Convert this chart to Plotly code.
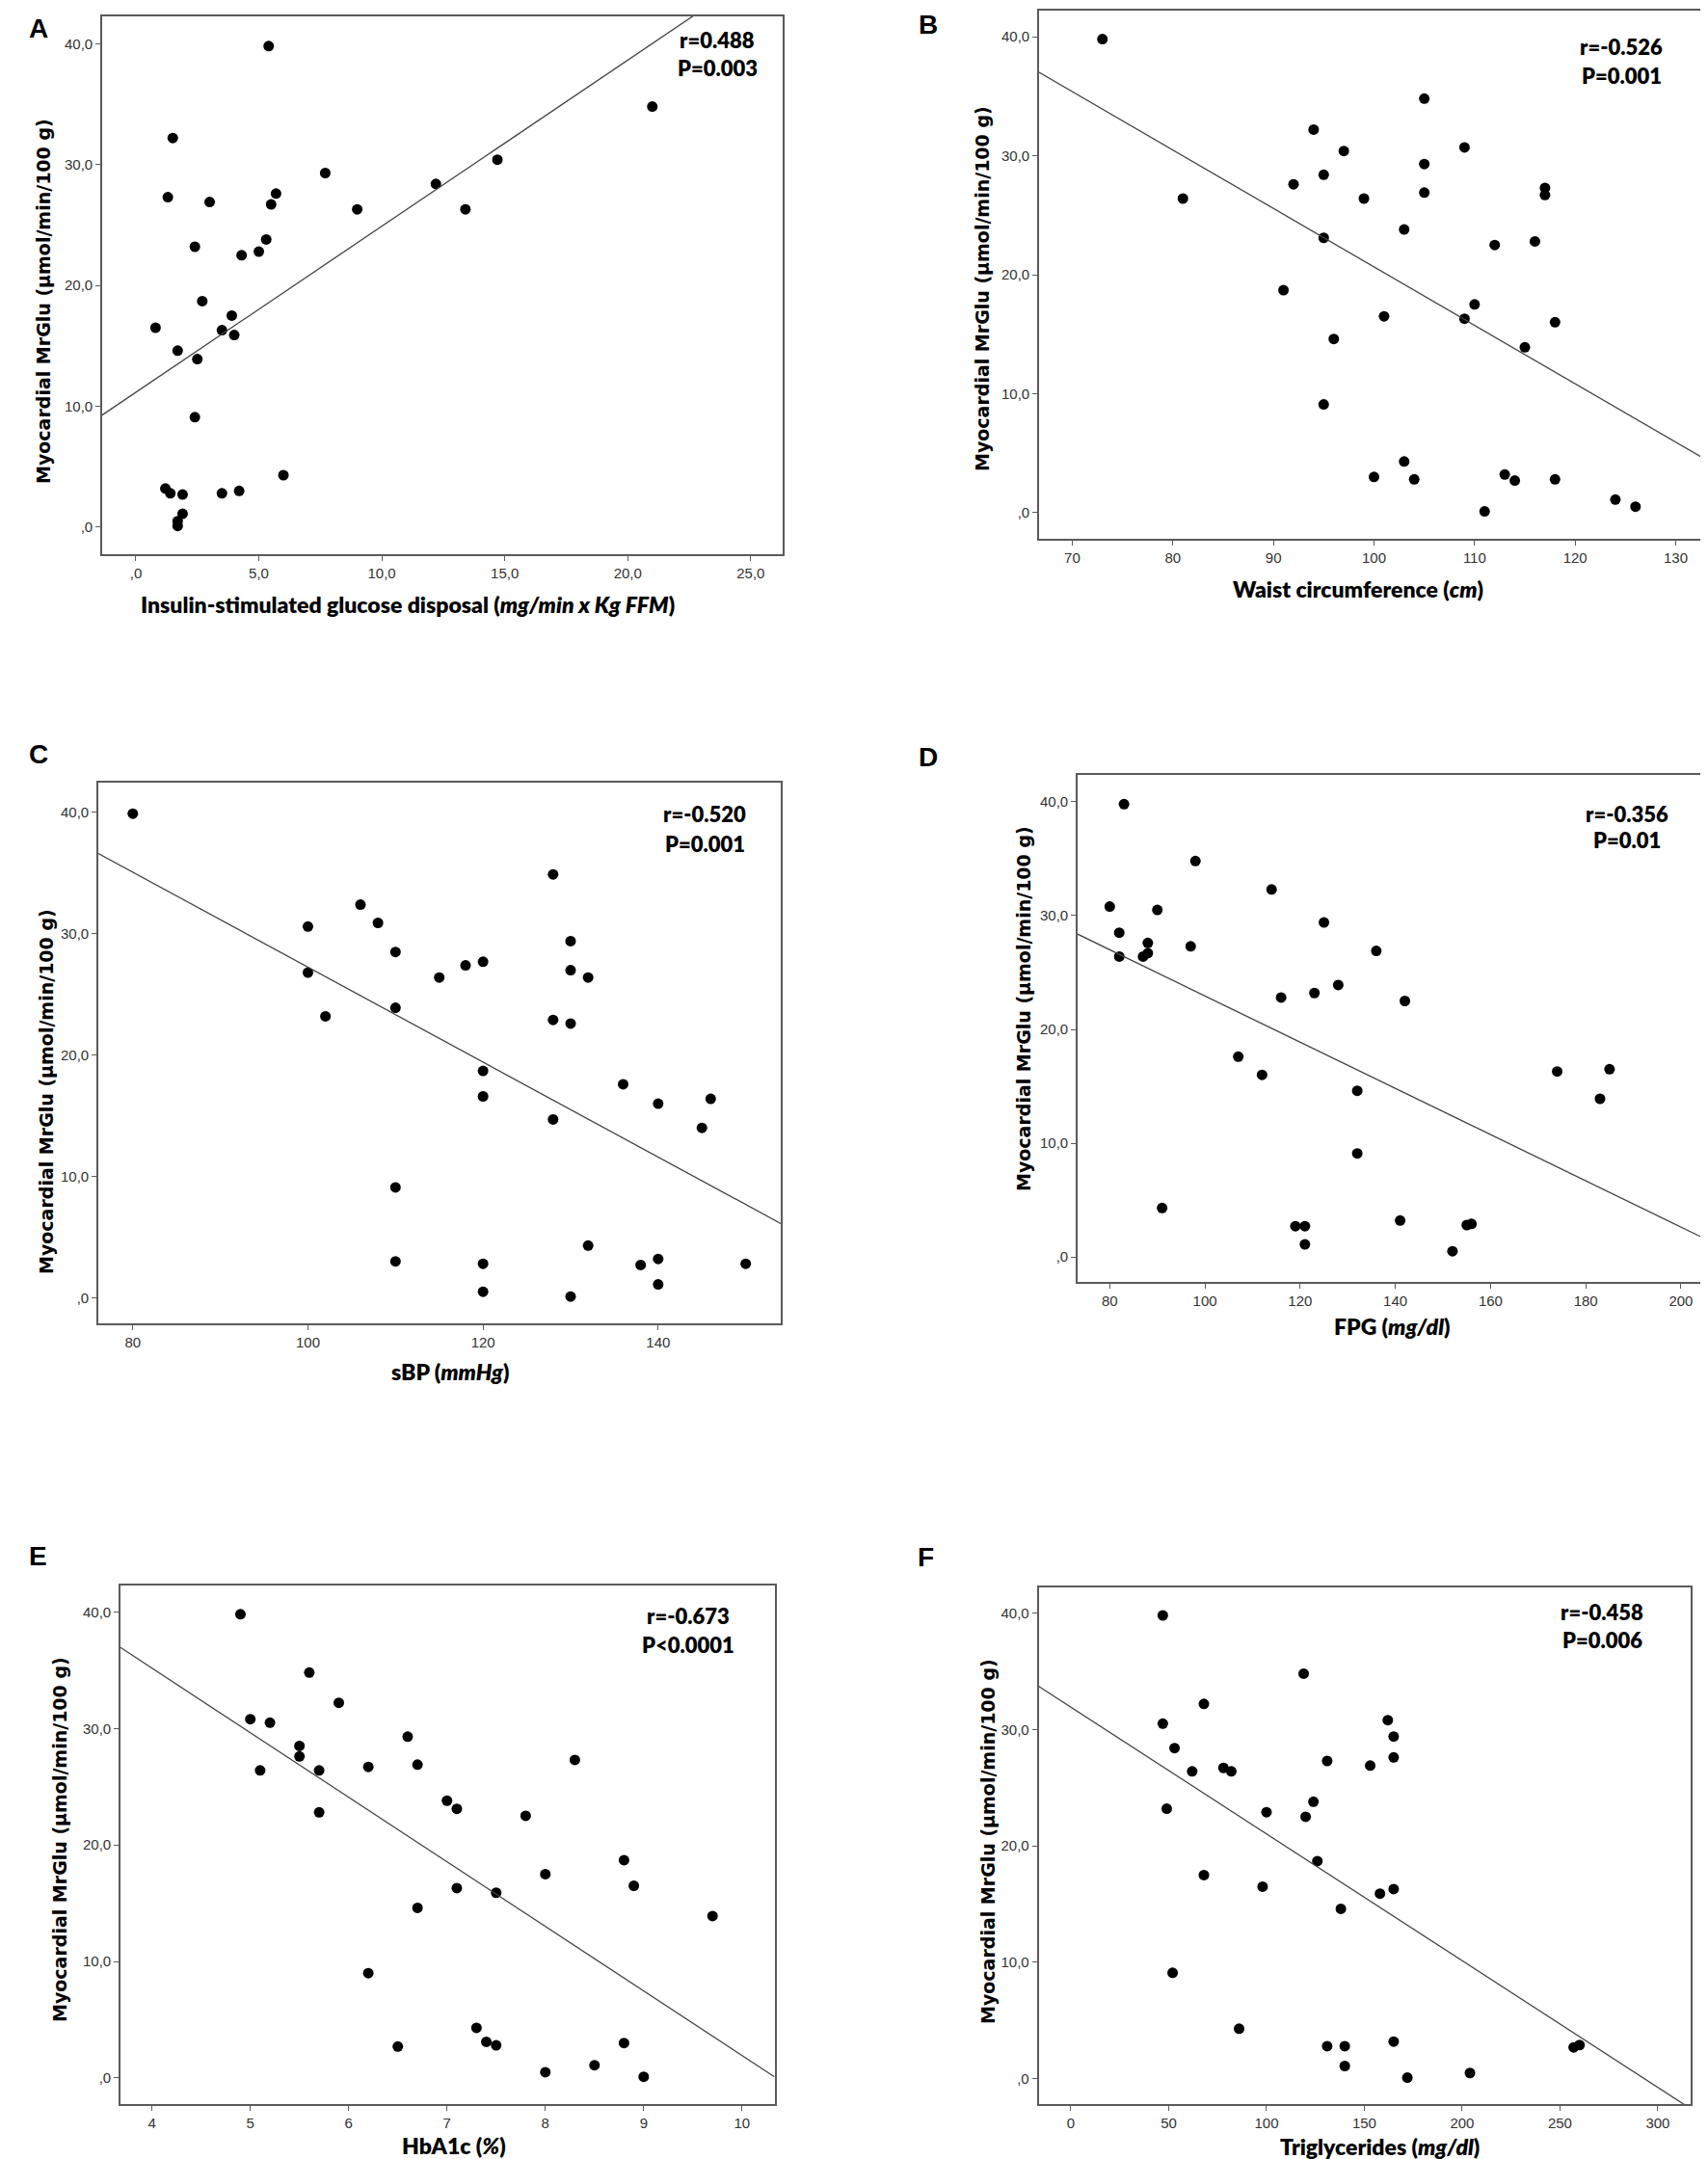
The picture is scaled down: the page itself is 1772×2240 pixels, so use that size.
import numpy as np
import plotly.graph_objects as go

W, H = 1772, 2240

# ---- data ----
# A: insulin-stimulated glucose disposal
a_x = [5.4, 1.5, 1.3, 3.0, 7.7, 5.7, 5.5, 9.0, 12.2, 14.7, 13.4, 21.0, 2.4, 5.3, 5.0, 4.3, 2.7,
       3.9, 3.5, 4.0, 0.8, 1.7, 2.5, 2.4, 6.0, 1.2, 1.4, 1.9, 3.5, 4.2, 1.9, 1.7, 1.7]
a_y = [39.8, 32.2, 27.3, 26.9, 29.3, 27.6, 26.7, 26.3, 28.4, 30.4, 26.3, 34.8, 23.2, 23.8, 22.8,
       22.5, 18.7, 17.5, 16.3, 15.9, 16.5, 14.6, 13.9, 9.1, 4.3, 3.2, 2.8, 2.7, 2.8, 3.0, 1.1, 0.5, 0.1]

# B: waist circumference
b_x = [73, 81, 94, 97, 105, 109, 105, 95, 92, 99, 105, 117, 117, 103, 95, 112, 116, 91, 110, 101,
       109, 118, 96, 115, 95, 103, 100, 104, 113, 114, 118, 111, 124, 126]
b_y = [39.8, 26.4, 32.2, 30.4, 34.8, 30.7, 29.3, 28.4, 27.6, 26.4, 26.9, 27.3, 26.7, 23.8, 23.1,
       22.5, 22.8, 18.7, 17.5, 16.5, 16.3, 16.0, 14.6, 13.9, 9.1, 4.3, 3.0, 2.8, 3.2, 2.7, 2.8, 0.1, 1.1, 0.5]

# C: systolic blood pressure
c_x = [80, 100, 100, 102, 106, 108, 110, 110, 115, 118, 120, 120, 120, 128, 130, 130, 132, 128,
       130, 136, 140, 146, 145, 128, 110, 110, 120, 120, 130, 132, 138, 140, 140, 150]
c_y = [39.9, 30.6, 26.8, 23.2, 32.4, 30.9, 28.5, 23.9, 26.4, 27.4, 27.7, 18.7, 16.6, 34.9, 29.4,
       27.0, 26.4, 22.9, 22.6, 17.6, 16.0, 16.4, 14.0, 14.7, 9.1, 3.0, 2.8, 0.5, 0.1, 4.3, 2.7, 3.2, 1.1, 2.8]

# D: fasting plasma glucose
d_x = [83, 80, 90, 98, 82, 82, 88, 88, 87, 97, 114, 125, 136, 116, 123, 128, 142, 107, 112, 132,
       132, 174, 185, 183, 91, 119, 121, 121, 141, 152, 155, 156]
d_y = [39.8, 30.8, 30.5, 34.8, 28.5, 26.4, 27.6, 26.7, 26.4, 27.3, 32.3, 29.4, 26.9, 22.8, 23.2,
       23.9, 22.5, 17.6, 16.0, 14.6, 9.1, 16.3, 16.5, 13.9, 4.3, 2.7, 2.7, 1.1, 3.2, 0.5, 2.8, 2.9]

# E: HbA1c
e_x = [4.9, 5.0, 5.2, 5.6, 5.9, 5.5, 5.5, 5.1, 5.7, 6.2, 6.6, 6.7, 5.7, 7.0, 7.1, 7.8, 8.3, 8.8,
       8.0, 8.9, 7.1, 7.5, 6.7, 9.7, 6.2, 7.3, 7.4, 7.5, 6.5, 8.8, 8.0, 8.5, 9.0]
e_y = [39.8, 30.8, 30.5, 34.8, 32.2, 28.5, 27.6, 26.4, 26.4, 26.7, 29.3, 26.9, 22.8, 23.8, 23.1,
       22.5, 27.3, 18.7, 17.5, 16.5, 16.3, 15.9, 14.6, 13.9, 9.0, 4.3, 3.1, 2.8, 2.7, 3.0, 0.5, 1.1, 0.1]

# F: triglycerides
f_x = [47, 47, 53, 62, 78, 82, 68, 49, 119, 131, 124, 120, 100, 153, 162, 165, 165, 126, 68, 98,
       158, 165, 138, 52, 86, 131, 140, 140, 165, 172, 204, 257, 260]
f_y = [39.8, 30.5, 28.4, 26.4, 26.7, 26.4, 32.2, 23.2, 34.8, 27.3, 23.8, 22.5, 22.9, 26.9, 30.8,
       29.4, 27.6, 18.7, 17.5, 16.5, 15.9, 16.3, 14.6, 9.1, 4.3, 2.8, 2.8, 1.1, 3.2, 0.1, 0.5, 2.7, 2.9]

letters = ["A", "B", "C", "D", "E", "F"]
r_text = ["r=0.488", "r=-0.526", "r=-0.520", "r=-0.356", "r=-0.673", "r=-0.458"]
p_text = ["P=0.003", "P=0.001", "P=0.001", "P=0.01", "P<0.0001", "P=0.006"]
x_titles = [
    "Insulin-stimulated glucose disposal (<i>mg/min x Kg FFM</i>)",
    "Waist circumference (<i>cm</i>)",
    "sBP (<i>mmHg</i>)",
    "FPG (<i>mg/dl</i>)",
    "HbA1c (<i>%</i>)",
    "Triglycerides (<i>mg/dl</i>)",
]
y_title = "Myocardial MrGlu (µmol/min/100 g)"
y_ticks = [0, 10, 20, 30, 40]
x_ticks = [
    [0, 5, 10, 15, 20, 25],
    [70, 80, 90, 100, 110, 120, 130],
    [80, 100, 120, 140],
    [80, 100, 120, 140, 160, 180, 200],
    [4, 5, 6, 7, 8, 9, 10],
    [0, 50, 100, 150, 200, 250, 300],
]
xs = [a_x, b_x, c_x, d_x, e_x, f_x]
ys = [a_y, b_y, c_y, d_y, e_y, f_y]

# ---- where each panel sits on the page (pixels) ----
# frame: left, right, top, bottom
frames = [
    (98, 804, 8.5, 567),
    (1070, 1766, 3, 551),
    (94, 802, 804, 1365),
    (1110, 1770, 796, 1322),
    (117, 795.5, 1637, 2175),
    (1069.5, 1746, 1639, 2175),
]
x_ranges = [(-1.37, 26.3), (66.7, 133.4), (76.06, 154.0), (73.25, 206.9), (3.68, 10.33), (-16.5, 316.8)]
y_ranges = [(-2.24, 42.3), (-2.2, 42.2), (-2.11, 42.46), (-2.2, 42.37), (-2.24, 42.27), (-2.17, 42.2)]
letter_pos = [(32, 21), (955, 18), (32, 774), (955, 777), (31, 1606), (952, 1607)]
stat_pos = [(736, 33, 62), (1674, 40, 70), (723, 836, 868), (1680, 836, 864), (706, 1668, 1698),
            (1654, 1664, 1693)]
ytitle_pos = [(37, 305), (1011, 292), (40, 1125), (1054, 1039), (54, 1901), (1017, 1902)]
xtitle_pos = [(415, 619), (1401, 603), (459, 1415), (1436, 1368), (463, 2218), (1423, 2219)]


def px(x):
    return x / W


def py(y):
    return 1 - y / H


def comma(v, decimals):
    s = f"{v:.{decimals}f}".replace(".", ",")
    return s[1:] if s.startswith("0,") else s


def note(text, x, y, size, family, angle=0, weight="bold"):
    return dict(
        text=text, x=px(x), y=py(y), xref="paper", yref="paper", showarrow=False,
        xanchor="center", yanchor="middle", textangle=angle,
        font=dict(family=family, size=size, color="black", weight=weight),
    )


fig = go.Figure()
annotations = []
layout = {}

for i in range(6):
    n = "" if i == 0 else str(i + 1)
    left, right, top, bottom = frames[i]
    x = np.array(xs[i], dtype=float)
    y = np.array(ys[i], dtype=float)

    # points
    fig.add_trace(go.Scatter(
        x=x, y=y, mode="markers", xaxis="x" + n, yaxis="y" + n,
        marker=dict(color="black", size=11), showlegend=False, hoverinfo="x+y",
    ))

    # least squares fit line across the whole frame
    slope, icpt = np.polyfit(x, y, 1)
    lx = np.array(x_ranges[i])
    fig.add_trace(go.Scatter(
        x=lx, y=icpt + slope * lx, mode="lines", xaxis="x" + n, yaxis="y" + n,
        line=dict(color="#444", width=1.3), showlegend=False, hoverinfo="skip",
    ))

    dec = 1 if i == 0 else 0
    axis_common = dict(
        showline=True, mirror=True, linecolor="#5a5a5a", linewidth=1.6,
        ticks="outside", ticklen=5, tickwidth=1.2, tickcolor="#5a5a5a",
        showgrid=False, zeroline=False,
        tickfont=dict(family="Liberation Sans, Arial", size=15, color="#333"),
    )
    layout["xaxis" + n] = dict(
        axis_common, domain=[px(left), px(right)], range=list(x_ranges[i]),
        anchor="y" + n, tickvals=x_ticks[i],
        ticktext=[comma(v, dec) for v in x_ticks[i]],
    )
    layout["yaxis" + n] = dict(
        axis_common, domain=[py(bottom), py(top)], range=list(y_ranges[i]),
        anchor="x" + n, tickvals=y_ticks,
        ticktext=[comma(v, 1) for v in y_ticks],
    )

    annotations.append(note(letters[i], *letter_pos[i], 28, "Liberation Sans, Arial"))
    sx, ry, pyy = stat_pos[i]
    annotations.append(note(r_text[i], sx, ry, 22, "Lato", weight=800))
    annotations.append(note(p_text[i], sx, pyy, 22, "Lato", weight=800))
    annotations.append(note(x_titles[i], *xtitle_pos[i], 23, "Lato", weight=800))
    annotations.append(note(y_title, *ytitle_pos[i], 19, "DejaVu Sans", angle=-90))

fig.update_layout(
    width=W, height=H, margin=dict(l=0, r=0, t=0, b=0),
    paper_bgcolor="white", plot_bgcolor="white",
    annotations=annotations, **layout,
)

fig.write_html("out.html")
